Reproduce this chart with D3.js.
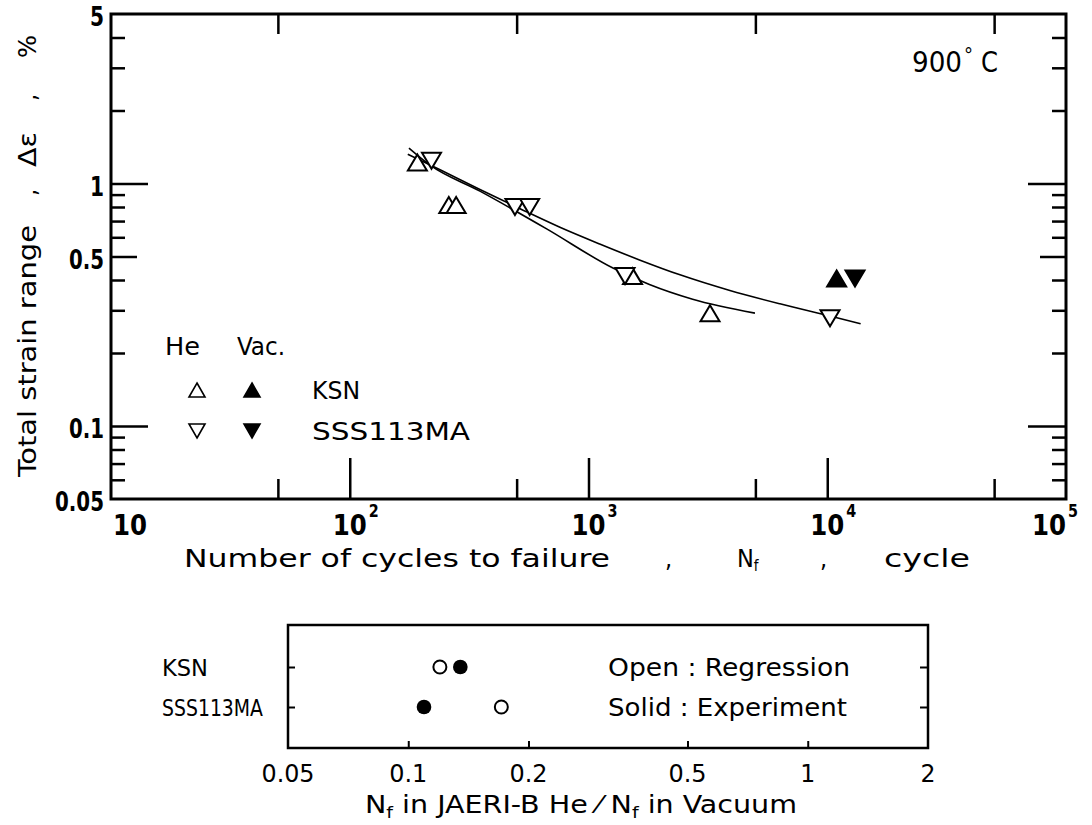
<!DOCTYPE html>
<html><head><meta charset="utf-8">
<script src="https://cdn.jsdelivr.net/npm/d3@7"></script>
<style>body{margin:0;background:#fff} svg{display:block}</style>
</head><body><svg id="c" width="1092" height="825"></svg>
<script>
// ---------- DATA ----------
// main chart: Total strain range (%) vs cycles to failure
const ksnHeN = [192, 260, 279, 1529, 3228];
const ksnHeStrain = [1.22, 0.815, 0.815, 0.415, 0.292];
const sssHeN = [220, 492, 567, 1422, 10270];
const sssHeStrain = [1.24, 0.80, 0.80, 0.415, 0.278];
const ksnVacN = [10950];
const ksnVacStrain = [0.406];
const sssVacN = [13070];
const sssVacStrain = [0.406];
// regression curves
const ksnCurveN = [177, 217, 351, 668, 1266, 1800, 2730, 4980];
const ksnCurveStrain = [1.40, 1.19, 0.930, 0.650, 0.448, 0.383, 0.333, 0.292];
const sssCurveN = [175, 239, 351, 517, 759, 1114, 1635, 2417, 3910, 6340, 10170, 13800];
const sssCurveStrain = [1.32, 1.14, 0.945, 0.787, 0.660, 0.563, 0.484, 0.420, 0.362, 0.319, 0.285, 0.264];
// main axes ticks
const yLabelVals = [5, 1, 0.5, 0.1, 0.05];
const yLongTicks = [1, 0.1];
const yMidTicks = [0.5];
const yMinorTicks = [4, 3, 2, 0.9, 0.8, 0.7, 0.6, 0.4, 0.3, 0.2, 0.09, 0.08, 0.07, 0.06];
const xLabelExps = [1, 2, 3, 4, 5];
const xLongTicks = [100, 1000, 10000];
const xMidTicks = [50, 500, 5000, 50000];
// lower chart: life ratio
const ratioCats = ["KSN", "SSS113MA"];
const ratioRegression = [0.120, 0.171];
const ratioExperiment = [0.135, 0.1095];
const ratioTicks = [0.1, 0.2, 0.5, 1];
const ratioLabels = ["0.05", "0.1", "0.2", "0.5", "1", "2"];

// ---------- DRAW ----------
const svg = d3.select("#c");
const FF = "'DejaVu Sans Condensed','DejaVu Sans',sans-serif";
const FB = "'Liberation Sans Narrow','DejaVu Sans Condensed','DejaVu Sans',sans-serif";

function txt(parent, s, x, y, o = {}) {
  const t = parent.append("text").attr("x", x).attr("y", y)
    .attr("font-family", o.bold ? FB : (o.family || FF))
    .attr("font-weight", o.bold ? "bold" : "normal")
    .attr("font-size", o.size || 24)
    .attr("fill", "#000")
    .attr("text-anchor", o.anchor || "start")
    .text(s);
  if (o.len) t.attr("textLength", o.len).attr("lengthAdjust", o.adj || "spacingAndGlyphs");
  if (o.transform) t.attr("transform", o.transform);
  return t;
}

const x = d3.scaleLog().domain([10, 1e5]).range([111, 1066]);
const y = d3.scaleLog().domain([0.05, 5]).range([499, 14]);

const main = svg.append("g");

function ticks(g, axisFn, scale, vals, size, tr) {
  const a = g.append("g").attr("transform", tr)
    .call(axisFn(scale).tickValues(vals).tickSize(size).tickSizeOuter(0).tickFormat(""));
  a.select(".domain").remove();
  a.selectAll("line").attr("stroke", "#000").attr("stroke-width", 2.5);
}
// left & right y ticks
ticks(main, d3.axisRight, y, yLongTicks, 37, "translate(111,0)");
ticks(main, d3.axisRight, y, yMidTicks, 26, "translate(111,0)");
ticks(main, d3.axisRight, y, yMinorTicks, 14, "translate(111,0)");
ticks(main, d3.axisLeft, y, yLongTicks, 38, "translate(1066,0)");
ticks(main, d3.axisLeft, y, yMidTicks, 26, "translate(1066,0)");
ticks(main, d3.axisLeft, y, yMinorTicks, 14, "translate(1066,0)");
// bottom & top x ticks
ticks(main, d3.axisTop, x, xLongTicks, 41, "translate(0,499)");
ticks(main, d3.axisTop, x, xMidTicks, 20, "translate(0,499)");
ticks(main, d3.axisBottom, x, xMidTicks, 20, "translate(0,14)");

// frame
main.append("rect").attr("x", 111).attr("y", 14).attr("width", 1066 - 111).attr("height", 499 - 14)
  .attr("fill", "none").attr("stroke", "#000").attr("stroke-width", 3);

// y tick labels
yLabelVals.forEach(v => {
  const s = String(v);
  const w = s.split("").reduce((acc, c) => acc + (c === "." ? 7 : 14), 0);
  txt(main, s, 104, y(v) + 12, {bold: true, size: 26, anchor: "end", len: w});
});
// x tick labels (powers of ten)
xLabelExps.forEach(e => {
  const px = x(Math.pow(10, e));
  let start = px - 17;
  if (e === 1) start = px + 2;
  if (e === 5) start = px - 34;
  txt(main, "10", start, 535, {bold: true, size: 28, len: 34});
  if (e > 1) txt(main, String(e), start + 36, 517, {bold: true, size: 17, len: 10});
});

// x title
txt(main, "Number of cycles to failure", 184, 567, {size: 25, len: 426});
txt(main, ",", 665, 567, {size: 25});
const nf = txt(main, "N", 737, 567, {size: 25});
nf.append("tspan").attr("font-size", 15).attr("dy", 4).text("f");
txt(main, ",", 820, 567, {size: 25});
txt(main, "cycle", 884, 567, {size: 25, len: 86});

// y title (rotated)
const rot = (yy) => `rotate(-90,36,${yy})`;
txt(main, "Total strain range", 36, 477, {size: 25, len: 252, transform: rot(477)});
txt(main, ",", 36, 196, {size: 25, transform: rot(196)});
txt(main, "Δε", 36, 167, {size: 25, len: 35, transform: rot(167)});
txt(main, ",", 36, 101, {size: 25, transform: rot(101)});
txt(main, "%", 36, 58, {size: 25, len: 23, transform: rot(58)});

// temperature label
txt(main, "900", 912, 72, {size: 28, len: 50});
txt(main, "°", 964, 62, {size: 20});
txt(main, "C", 981, 72, {size: 28, len: 17});

// curves
const line = d3.line().x(d => x(d[0])).y(d => y(d[1])).curve(d3.curveMonotoneX);
main.append("path").attr("d", line(d3.zip(ksnCurveN, ksnCurveStrain)))
  .attr("fill", "none").attr("stroke", "#000").attr("stroke-width", 1.6);
main.append("path").attr("d", line(d3.zip(sssCurveN, sssCurveStrain)))
  .attr("fill", "none").attr("stroke", "#000").attr("stroke-width", 1.6);

// triangle markers
function tri(w, h, up) {
  const s = up ? 1 : -1;
  return `M0,${-s * h / 2}L${w / 2},${s * h / 2}L${-w / 2},${s * h / 2}Z`;
}
function markers(ns, vs, up, filled) {
  main.append("g").selectAll("path").data(d3.zip(ns, vs)).join("path")
    .attr("transform", d => `translate(${x(d[0])},${y(d[1])})`)
    .attr("d", tri(19, 16, up))
    .attr("fill", filled ? "#000" : "#fff")
    .attr("stroke", "#000").attr("stroke-width", 2).attr("stroke-linejoin", "miter");
}
markers(ksnHeN, ksnHeStrain, true, false);
markers(sssHeN, sssHeStrain, false, false);
markers(ksnVacN, ksnVacStrain, true, true);
markers(sssVacN, sssVacStrain, false, true);

// legend
txt(main, "He", 165, 355, {size: 24, len: 35});
txt(main, "Vac.", 237, 355, {size: 24, len: 48});
const lg = main.append("g");
[[197, 390, true, false], [252, 390, true, true], [197, 431, false, false], [252, 431, false, true]].forEach(p => {
  lg.append("path").attr("transform", `translate(${p[0]},${p[1]})`).attr("d", tri(16, 14, p[2]))
    .attr("fill", p[3] ? "#000" : "#fff").attr("stroke", "#000").attr("stroke-width", 1.6);
});
txt(main, "KSN", 312, 399, {size: 24, len: 48});
txt(main, "SSS113MA", 312, 440, {size: 24, len: 158});

// ---------- lower chart ----------
const xb = d3.scaleLog().domain([0.05, 2]).range([288, 928]);
const yb = d3.scalePoint().domain(ratioCats).range([667, 707]);
const low = svg.append("g");
const bt = low.append("g").attr("transform", "translate(0,748)")
  .call(d3.axisTop(xb).tickValues(ratioTicks).tickSize(7).tickSizeOuter(0).tickFormat(""));
bt.select(".domain").remove();
bt.selectAll("line").attr("stroke", "#000").attr("stroke-width", 2);
const lt = low.append("g").attr("transform", "translate(288,0)")
  .call(d3.axisRight(yb).tickSize(7).tickSizeOuter(0).tickFormat(""));
lt.select(".domain").remove();
lt.selectAll("line").attr("stroke", "#000").attr("stroke-width", 2);
const rt = low.append("g").attr("transform", "translate(928,0)")
  .call(d3.axisLeft(yb).tickSize(8).tickSizeOuter(0).tickFormat(""));
rt.select(".domain").remove();
rt.selectAll("line").attr("stroke", "#000").attr("stroke-width", 2);
low.append("rect").attr("x", 288).attr("y", 625).attr("width", 928 - 288).attr("height", 748 - 625)
  .attr("fill", "none").attr("stroke", "#000").attr("stroke-width", 2.5);

ratioLabels.forEach(s => {
  const w = s.split("").reduce((acc, c) => acc + (c === "." ? 8 : 15), 0);
  txt(low, s, xb(+s), 782, {size: 24, anchor: "middle", len: w});
});
ratioCats.forEach((c, i) => {
  txt(low, c, 162, yb(c) + 9, {size: 23, len: i === 0 ? 46 : 101});
});
low.append("g").selectAll("circle").data(ratioCats).join("circle")
  .attr("cx", (c, i) => xb(ratioRegression[i])).attr("cy", c => yb(c)).attr("r", 6.5)
  .attr("fill", "#fff").attr("stroke", "#000").attr("stroke-width", 2);
low.append("g").selectAll("circle").data(ratioCats).join("circle")
  .attr("cx", (c, i) => xb(ratioExperiment[i])).attr("cy", c => yb(c)).attr("r", 7.3)
  .attr("fill", "#000");
txt(low, "Open : Regression", 608, 676, {size: 24, len: 242});
txt(low, "Solid : Experiment", 608, 716, {size: 24, len: 239});

const bx = txt(low, "N", 365, 813, {size: 24});
bx.append("tspan").attr("font-size", 16).attr("dy", 5).text("f");
bx.append("tspan").attr("dy", -5).text(" in JAERI-B He ⁄ N");
bx.append("tspan").attr("font-size", 16).attr("dy", 5).text("f");
bx.append("tspan").attr("dy", -5).text(" in Vacuum");
bx.attr("textLength", 432).attr("lengthAdjust", "spacingAndGlyphs");
</script></body></html>
